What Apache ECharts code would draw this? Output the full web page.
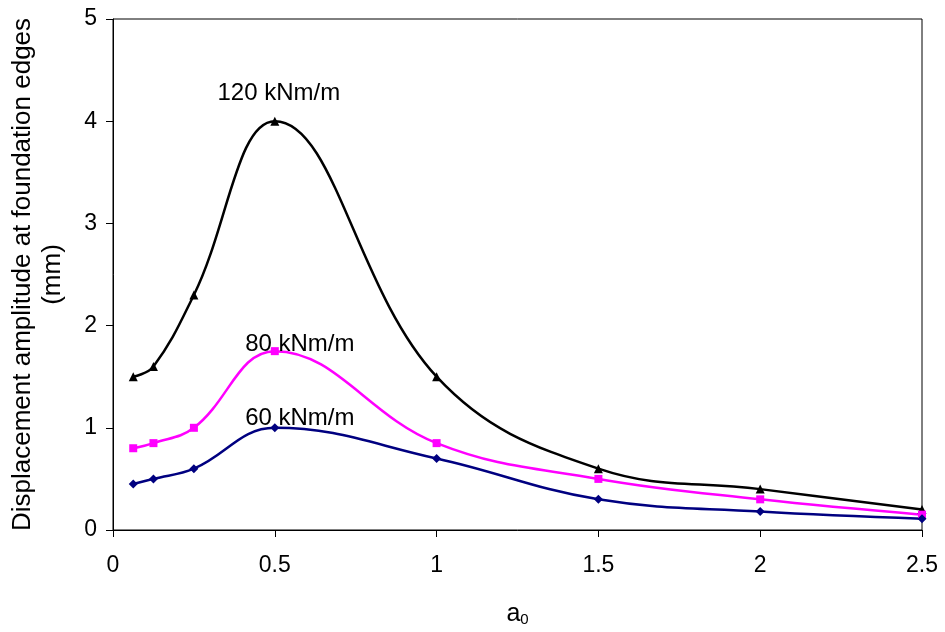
<!DOCTYPE html>
<html>
<head>
<meta charset="utf-8">
<script src="https://cdn.jsdelivr.net/npm/echarts@6/dist/echarts.min.js"></script>
<style>html,body{margin:0;padding:0;background:#fff;}#c{width:945px;height:632px;}</style>
</head>
<body>
<div id="c"></div>
<script>
const xValues = [0.0625, 0.125, 0.25, 0.5, 1, 1.5, 2, 2.5];
const s120 = [1.5, 1.6, 2.3, 4.0, 1.5, 0.6, 0.4, 0.2];
const s80 = [0.8, 0.85, 1.0, 1.75, 0.85, 0.5, 0.3, 0.15];
const s60 = [0.45, 0.5, 0.6, 1.0, 0.7, 0.3, 0.18, 0.11];
const seriesNames = ['120 kNm/m', '80 kNm/m', '60 kNm/m'];
const labelIndex = 3;

const FONT = '"Liberation Sans", Arial, sans-serif';

function build(vals, name, color, symbol, size, offset) {
  return {
    type: 'line',
    name: name,
    smooth: 0.4,
    clip: false,
    symbol: symbol,
    symbolSize: size,
    lineStyle: { color: color, width: 2.5 },
    itemStyle: { color: color },
    data: vals.map((v, i) => {
      const d = { value: [xValues[i], v] };
      if (i === labelIndex) {
        d.label = {
          show: true, position: 'inside', offset: offset,
          formatter: name, color: '#000', fontSize: 24, fontFamily: FONT
        };
      }
      return d;
    })
  };
}

const chart = echarts.init(document.getElementById('c'));
chart.setOption({
  animation: false,
  backgroundColor: '#fff',
  grid: { left: 113, right: 23, top: 19, bottom: 99, show: true, borderColor: '#000', borderWidth: 1, backgroundColor: 'transparent' },
  xAxis: {
    type: 'value', min: 0, max: 2.5, interval: 0.5,
    name: 'a{sub|0}', nameLocation: 'middle', nameGap: 72,
    nameTextStyle: { color: '#000', fontSize: 25, fontFamily: FONT,
      rich: { sub: { fontSize: 15, fontFamily: FONT, color: '#000', verticalAlign: 'bottom', padding: [9, 0, 0, 0] } } },
    axisLine: { show: true, lineStyle: { color: '#000', width: 1 } },
    axisTick: { show: true, inside: false, length: 7, lineStyle: { color: '#000' } },
    axisLabel: { color: '#000', fontSize: 23, fontFamily: FONT, margin: 24 },
    splitLine: { show: false }
  },
  yAxis: {
    type: 'value', min: 0, max: 5, interval: 1,
    name: 'Displacement amplitude at foundation edges\n(mm)', nameLocation: 'middle', nameGap: 45,
    nameTextStyle: { color: '#000', fontSize: 26, fontFamily: FONT, lineHeight: 30 },
    axisLine: { show: true, lineStyle: { color: '#000', width: 1 } },
    axisTick: { show: true, inside: false, length: 7, lineStyle: { color: '#000' } },
    axisLabel: { color: '#000', fontSize: 23, fontFamily: FONT, margin: 16 },
    splitLine: { show: false }
  },
  series: [
    build(s120, seriesNames[0], '#000000', 'triangle', 9, [4, -28]),
    build(s80, seriesNames[1], '#FF00FF', 'rect', 8, [25, -7]),
    build(s60, seriesNames[2], '#000080', 'diamond', 9, [25, -9])
  ]
});
</script>
</body>
</html>
